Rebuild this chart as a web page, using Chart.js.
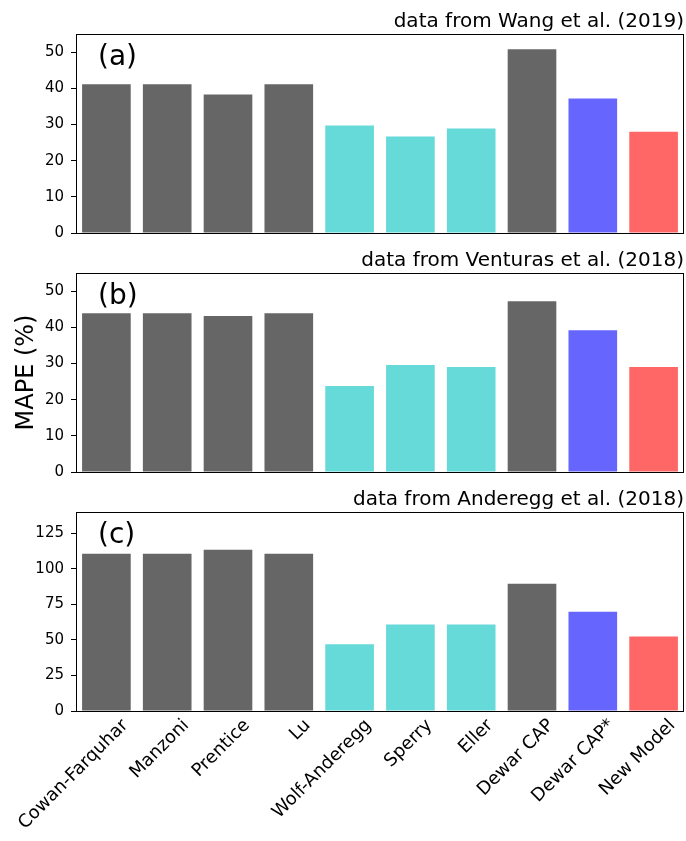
<!DOCTYPE html>
<html>
<head>
<meta charset="utf-8">
<script src="https://cdn.jsdelivr.net/npm/chart.js@4.4.1/dist/chart.umd.min.js"></script>
<style>
  html, body { margin: 0; padding: 0; background: #fff; }
  #wrap { position: relative; width: 686px; height: 841px; }
  #wrap canvas { position: absolute; left: 0; }
</style>
</head>
<body>
<div id="wrap">
  <canvas id="panelA" style="top:0px"></canvas>
  <canvas id="panelB" style="top:250px"></canvas>
  <canvas id="panelC" style="top:490px"></canvas>
</div>
<script>
// models on the x axis
const models = ['Cowan-Farquhar', 'Manzoni', 'Prentice', 'Lu', 'Wolf-Anderegg',
                'Sperry', 'Eller', 'Dewar CAP', 'Dewar CAP*', 'New Model'];
// MAPE (%) per data source
const wangMape = [41.1, 41.1, 38.3, 41.1, 29.7, 26.7, 28.9, 50.8, 37.2, 28.0];
const venturasMape = [43.9, 43.9, 43.1, 43.9, 23.8, 29.6, 29.0, 47.2, 39.2, 29.0];
const andereggMape = [110.7, 110.7, 113.5, 110.7, 46.9, 60.9, 60.9, 89.5, 69.8, 52.5];
// y axis tick labels
const wangTicks = [0, 10, 20, 30, 40, 50];
const venturasTicks = [0, 10, 20, 30, 40, 50];
const andereggTicks = [0, 25, 50, 75, 100, 125];
const barColors = ['#666666', '#666666', '#666666', '#666666', '#66d9d9',
                   '#66d9d9', '#66d9d9', '#666666', '#6666ff', '#ff6666'];

const FONT = "'DejaVu Sans', sans-serif";

// frame, source caption and panel tag
const panelDecor = {
    id: 'panelDecor',
    afterDraw(chart, args, opts) {
        const { ctx, chartArea: a } = chart;
        ctx.save();
        ctx.strokeStyle = '#000';
        ctx.lineWidth = 1;
        ctx.strokeRect(a.left + 0.5, a.top + 0.5, a.right - a.left - 1, a.bottom - a.top);
        ctx.fillStyle = '#000';
        ctx.textBaseline = 'alphabetic';
        ctx.font = '20px ' + FONT;
        ctx.textAlign = 'right';
        ctx.fillText(opts.caption, a.right, a.top - 7.5);
        ctx.font = '28px ' + FONT;
        ctx.textAlign = 'left';
        ctx.fillText(opts.tag, a.left + 22, a.top + 31);
        ctx.restore();
    }
};

function makePanel(id, height, top, axisHeight, values, yMax, ticks, caption, tag, opts) {
    const canvas = document.getElementById(id);
    canvas.width = 686;
    canvas.height = height;
    canvas.style.width = '686px';
    canvas.style.height = height + 'px';
    return new Chart(canvas, {
        type: 'bar',
        data: {
            labels: models,
            datasets: [{
                data: values,
                backgroundColor: barColors,
                categoryPercentage: 1.0,
                barPercentage: 0.8,
            }]
        },
        plugins: [panelDecor],
        options: {
            responsive: false,
            animation: false,
            events: [],
            layout: { padding: { top: top, left: 0, right: 2, bottom: 0 } },
            plugins: {
                legend: { display: false },
                tooltip: { enabled: false },
                panelDecor: { caption: caption, tag: tag },
            },
            scales: {
                x: {
                    offset: true,
                    grid: { display: false, drawTicks: false },
                    border: { display: false },
                    ticks: {
                        display: !!opts.showLabels,
                        autoSkip: false,
                        maxRotation: 45,
                        minRotation: 45,
                        padding: 4,
                        labelOffset: 19,
                        color: '#000',
                        font: { family: FONT, size: 18 },
                    },
                    afterFit: s => {
                        s.height = axisHeight;
                        s.paddingLeft = 0;
                        s.paddingRight = 0;
                    },
                },
                y: {
                    min: 0,
                    max: yMax,
                    grid: { drawOnChartArea: false, drawTicks: true, tickLength: 5, color: '#000' },
                    border: { display: false },
                    title: {
                        display: !!opts.yTitle,
                        text: opts.yTitle || '',
                        color: '#000',
                        font: { family: FONT, size: 24 },
                        padding: { top: 12.5, bottom: 0 },
                    },
                    ticks: {
                        padding: 7,
                        color: '#000',
                        font: { family: FONT, size: 15 },
                    },
                    afterBuildTicks: s => { s.ticks = ticks.map(v => ({ value: v })); },
                    afterFit: s => { s.width = 76; },
                }
            }
        }
    });
}

makePanel('panelA', 250, 34, 17, wangMape, 55, wangTicks, 'data from Wang et al. (2019)', '(a)', {});
makePanel('panelB', 240, 23, 18, venturasMape, 55, venturasTicks, 'data from Venturas et al. (2018)', '(b)', { yTitle: 'MAPE (%)' });
makePanel('panelC', 351, 22, 130, andereggMape, 140, andereggTicks, 'data from Anderegg et al. (2018)', '(c)', { showLabels: true });
</script>
</body>
</html>
